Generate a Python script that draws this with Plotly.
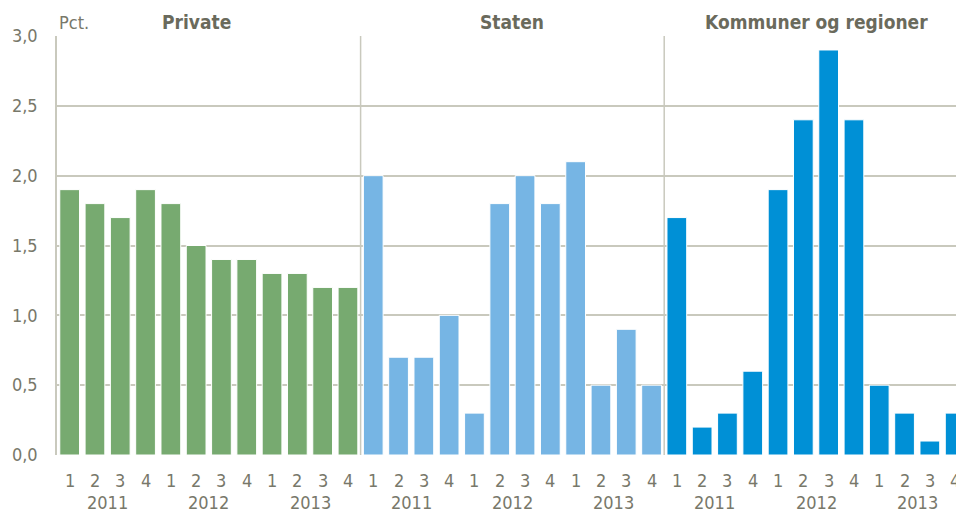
import plotly.graph_objects as go

sectors = ["Private", "Staten", "Kommuner og regioner"]
quarters = ["1", "2", "3", "4"]
years = ["2011", "2012", "2013"]
private = [1.9, 1.8, 1.7, 1.9, 1.8, 1.5, 1.4, 1.4, 1.3, 1.3, 1.2, 1.2]
staten = [2.0, 0.7, 0.7, 1.0, 0.3, 1.8, 2.0, 1.8, 2.1, 0.5, 0.9, 0.5]
kommuner = [1.7, 0.2, 0.3, 0.6, 1.9, 2.4, 2.9, 2.4, 0.5, 0.3, 0.1, 0.3]
colors = ["#77aa70", "#76b5e4", "#0090d6"]
yticks = [0.0, 0.5, 1.0, 1.5, 2.0, 2.5, 3.0]

FONT = "DejaVu Sans Condensed, Liberation Sans Narrow, sans-serif"
TXT = "#78786a"
TITLE = "#6a6a5c"
GRID = "#c9c9bd"

fig = go.Figure()
series = [private, staten, kommuner]
n = len(quarters) * len(years)
for g, (name, vals) in enumerate(zip(sectors, series)):
    xs = [g * n + i for i in range(n)]
    fig.add_trace(go.Bar(x=xs, y=vals, name=name, marker_color=colors[g],
                         marker_line_color="white", marker_line_width=1,
                         width=0.78, showlegend=False))

annotations = []
for g in range(len(sectors)):
    for yi, yr in enumerate(years):
        for qi, q in enumerate(quarters):
            xi = g * n + yi * 4 + qi
            annotations.append(dict(x=xi, y=0, xref="x", yref="paper", text=q,
                                    showarrow=False, yshift=-25, yanchor="middle",
                                    font=dict(family=FONT, size=18, color=TXT)))
        annotations.append(dict(x=g * n + yi * 4 + 1.5, y=0, xref="x", yref="paper", text=yr,
                                showarrow=False, yshift=-47, yanchor="middle",
                                font=dict(family=FONT, size=18, color=TXT)))

title_x = [5.0, 17.5, 29.5]
for g, name in enumerate(sectors):
    annotations.append(dict(x=title_x[g], y=1, xref="x", yref="paper", text=name,
                            showarrow=False, yshift=14, yanchor="middle",
                            font=dict(family=FONT, size=19, color=TITLE, weight=600)))
annotations.append(dict(x=0.0, y=1, xref="paper", yref="paper", text="Pct.",
                        showarrow=False, yshift=14, yanchor="middle", xanchor="left",
                        font=dict(family=FONT, size=18, color=TXT)))

shapes = []
for b in [n - 0.5, 2 * n - 0.5]:
    shapes.append(dict(type="line", xref="x", yref="paper", x0=b, x1=b, y0=0, y1=1,
                       line=dict(color=GRID, width=1.5)))

fig.update_layout(
    width=956, height=506,
    margin=dict(l=49, r=0, t=28, b=59),
    plot_bgcolor="white", paper_bgcolor="white",
    annotations=annotations, shapes=shapes,
    separators=",.",
    xaxis=dict(range=[-0.5, 35.35], showticklabels=False, showgrid=False, zeroline=False,
               showline=False, ticks=""),
    yaxis=dict(range=[0, 3.0], tickvals=yticks, tickformat=".1f", showgrid=True,
               gridcolor=GRID, gridwidth=1.5, zeroline=False, showline=True,
               linecolor=GRID, linewidth=1.5, ticks="", ticklabelstandoff=14,
               tickfont=dict(family=FONT, size=18, color=TXT)),
)
fig.write_html("out.html")
